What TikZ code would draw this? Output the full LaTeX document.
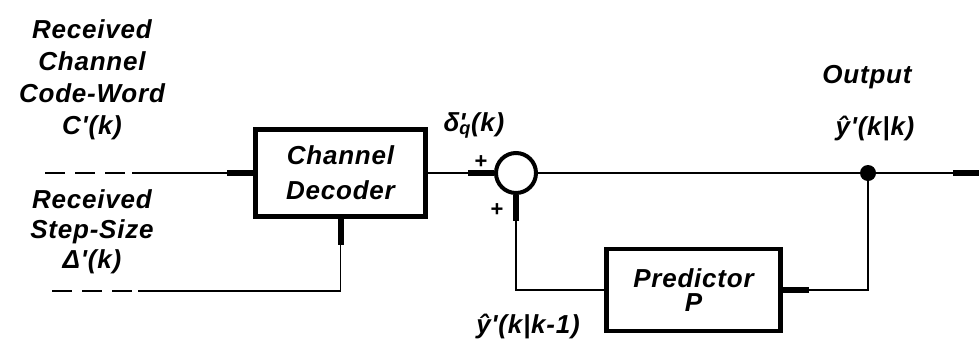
\documentclass[tikz,border=0pt]{standalone}
\usepackage{fontspec}
\setmainfont{Liberation Sans}
\newfontfamily\lblfont{Liberation Sans}[LetterSpace=3]
\usetikzlibrary{arrows.meta,positioning}

\begin{document}
\begin{tikzpicture}[
  x=1pt,y=-1pt,
  blk/.style={draw,line width=4.5pt,minimum width=170pt,minimum height=87pt,
    align=center,font=\lblfont\bfseries\itshape\fontsize{26}{35}\selectfont},
  lbl/.style={align=center,inner sep=0pt,
    font=\lblfont\bfseries\itshape\fontsize{26}{32}\selectfont},
  sgn/.style={inner sep=0pt,font=\bfseries\fontsize{22}{22}\selectfont},
  wire/.style={line width=1.4pt},
  sig/.style={wire,-{Rectangle[length=26pt,width=6pt]}},
  rx/.style={wire,dash pattern=on 20pt off 10pt}
]
  \useasboundingbox (0,0) rectangle (979,341);

  % blocks
  \node[blk] (dec) at (340.5,173) {Channel\\Decoder};
  \node[draw,circle,line width=4pt,minimum size=40pt,inner sep=0pt] (sum) at (516,173) {};
  \node[blk,minimum width=174pt,minimum height=82pt,
    font=\lblfont\bfseries\itshape\fontsize{26}{24}\selectfont] (pred) at (693.5,290) {Predictor\\P};
  \node[circle,fill,minimum size=16pt,inner sep=0pt] (tap) at (868,173) {};

  \coordinate (cwin) at (45,173);
  \coordinate (cwcut) at (132,173);
  \coordinate (ssin) at (52,291);
  \coordinate (sscut) at (138,291);
  \coordinate (yout) at (979,173);

  % received signals
  \draw[rx] (cwin) -- (cwcut);
  \draw[sig] (cwcut) -- (dec.west);
  \draw[rx] (ssin) -- (sscut);
  \draw[sig] (sscut) -| (dec.south);

  % loop
  \draw[sig] (dec.east) -- (sum.west);
  \draw[wire] (sum.east) -- (tap);
  \draw[sig] (tap) -- (yout);
  \draw[sig] (tap) |- (pred.east);
  \draw[sig] (pred.west) -| (sum.south);

  % labels
  \node[lbl] (cwlbl) at (92,80) {Received\\Channel\\Code-Word\\C'(k)};
  \node[lbl,font=\lblfont\bfseries\itshape\fontsize{26}{30}\selectfont] (sslbl) at (92,232)
    {Received\\Step-Size\\Δ'(k)};
  \node[lbl,anchor=base] (dlbl) at (474,131) {δ\rlap{'}\textsubscript{q}(k)};
  \node[sgn] (pa) at (481,162) {+};
  \node[sgn] (pb) at (497,210) {+};
  \node[lbl,anchor=base] (outlbl) at (867,83) {Output};
  \node[lbl,anchor=base] (ykk) at (875,135) {ŷ'(k|k)};
  \node[lbl,anchor=base] (ykk1) at (528,333) {ŷ'(k|k-1)};
\end{tikzpicture}
\end{document}
